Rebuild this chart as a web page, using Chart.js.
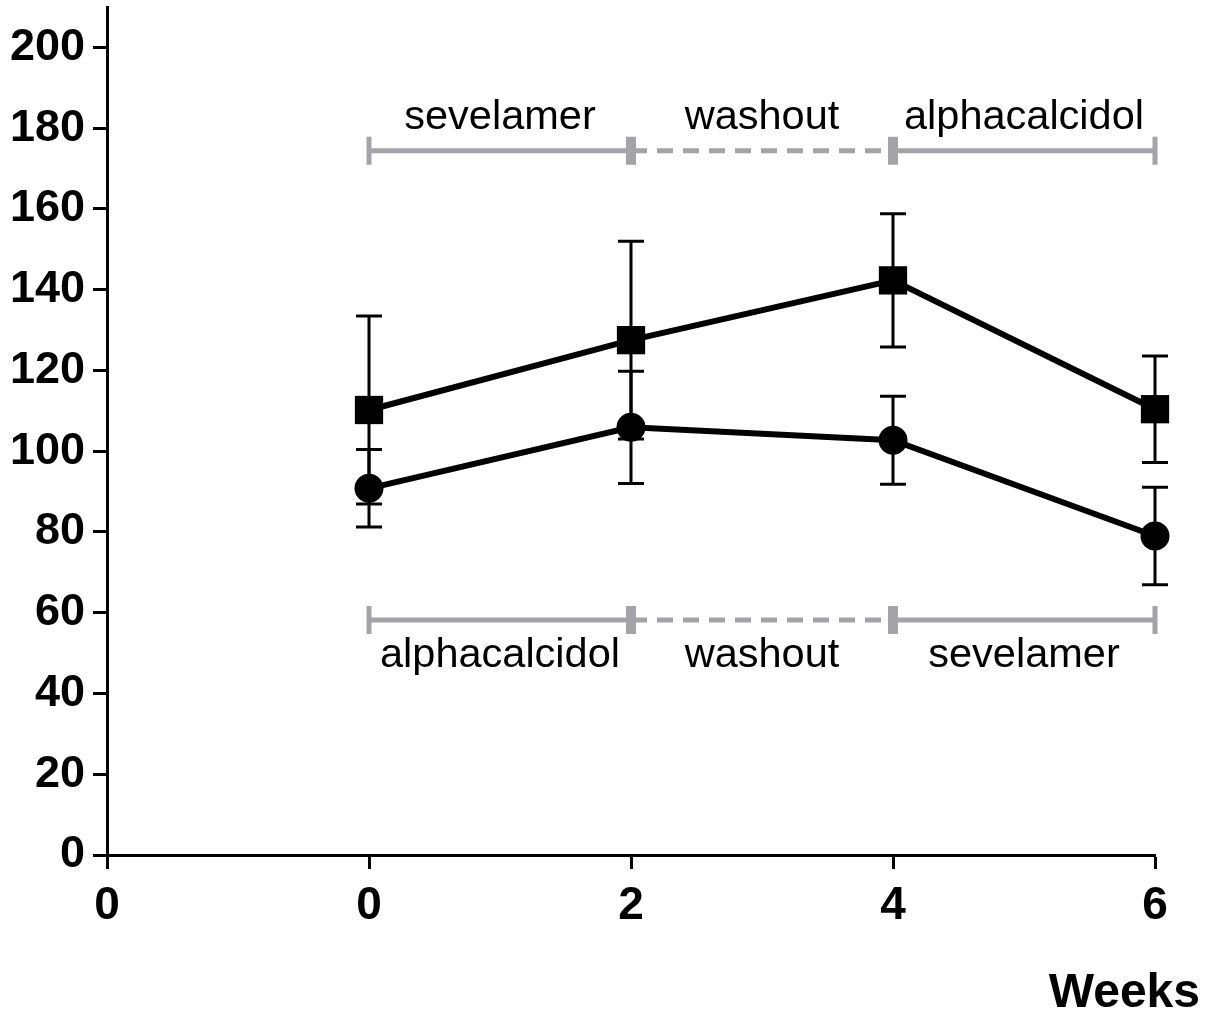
<!DOCTYPE html>
<html>
<head>
<meta charset="utf-8">
<script src="https://cdn.jsdelivr.net/npm/chart.js@4.4.1/dist/chart.umd.min.js"></script>
<style>
  html, body { margin: 0; padding: 0; background: #fff; }
  #wrap { width: 1212px; height: 1018px; }
</style>
</head>
<body>
<div id="wrap"><canvas id="chart" width="1212" height="1018"></canvas></div>
<script>
const weeks = [0, 2, 4, 6];
const squareMean = [110.2, 127.5, 142.3, 110.4];
const squareErr = [23.3, 24.5, 16.5, 13.2];
const circleMean = [90.8, 105.9, 102.7, 79.0];
const circleErr = [9.6, 13.9, 10.9, 12.1];

const yTicks = [0, 20, 40, 60, 80, 100, 120, 140, 160, 180, 200];
const xTicks = [-2, 0, 2, 4, 6];
const xTickLabels = ['0', '0', '2', '4', '6'];

// treatment periods drawn as gray bars above and below the data
const topPeriods = ['sevelamer', 'washout', 'alphacalcidol'];
const bottomPeriods = ['alphacalcidol', 'washout', 'sevelamer'];
const periodEdges = [0, 2, 4, 6];
const topBarY = 174.4;
const bottomBarY = 58.2;
const topLabelY = 182.6;
const bottomLabelY = 49.5;

const GRAY = '#a3a3a8';
const FONT = '"Liberation Sans", Arial, sans-serif';

function pts(xs, ys) {
  return xs.map((x, i) => ({ x, y: ys[i] }));
}

function periodBar(i, y) {
  const washout = i === 1;
  return {
    data: [{ x: periodEdges[i], y }, { x: periodEdges[i + 1], y }],
    borderColor: GRAY,
    borderWidth: 5,
    borderDash: washout ? [16, 10] : [],
    pointStyle: 'line',
    rotation: 90,
    pointRadius: washout ? 0 : 14,
    pointBorderColor: GRAY,
    pointBorderWidth: i === 0 ? [5, 10] : [10, 5],
    clip: false,
    order: 5,
  };
}

const errorBars = {
  id: 'errorBars',
  beforeDatasetsDraw(chart) {
    const { ctx, scales: { x, y } } = chart;
    ctx.save();
    ctx.strokeStyle = '#000';
    ctx.lineWidth = 3;
    const draw = (means, errs) => {
      weeks.forEach((w, i) => {
        const px = x.getPixelForValue(w);
        const hi = y.getPixelForValue(means[i] + errs[i]);
        const lo = y.getPixelForValue(means[i] - errs[i]);
        ctx.beginPath();
        ctx.moveTo(px, hi); ctx.lineTo(px, lo);
        ctx.moveTo(px - 13, hi); ctx.lineTo(px + 13, hi);
        ctx.moveTo(px - 13, lo); ctx.lineTo(px + 13, lo);
        ctx.stroke();
      });
    };
    draw(squareMean, squareErr);
    draw(circleMean, circleErr);
    ctx.restore();
  },
  afterDraw(chart) {
    const { ctx, scales: { x, y } } = chart;
    ctx.save();
    ctx.fillStyle = '#000';
    ctx.textAlign = 'center';
    ctx.textBaseline = 'middle';
    ctx.font = '41.5px ' + FONT;
    topPeriods.forEach((t, i) => {
      const cx = x.getPixelForValue((periodEdges[i] + periodEdges[i + 1]) / 2);
      ctx.fillText(t, cx, y.getPixelForValue(topLabelY));
    });
    bottomPeriods.forEach((t, i) => {
      const cx = x.getPixelForValue((periodEdges[i] + periodEdges[i + 1]) / 2);
      ctx.fillText(t, cx, y.getPixelForValue(bottomLabelY));
    });
    ctx.font = 'bold 48px ' + FONT;
    ctx.textAlign = 'right';
    ctx.fillText('Weeks', 1200, 994);
    ctx.restore();
  },
};

new Chart(document.getElementById('chart'), {
  type: 'line',
  data: {
    datasets: [
      {
        data: pts(weeks, squareMean),
        borderColor: '#000',
        borderWidth: 6,
        pointStyle: 'rect',
        pointRadius: 20,
        pointBackgroundColor: '#000',
        pointBorderColor: '#000',
        pointBorderWidth: 0,
        clip: false,
        order: 1,
      },
      {
        data: pts(weeks, circleMean),
        borderColor: '#000',
        borderWidth: 6,
        pointStyle: 'circle',
        pointRadius: 14.5,
        pointBackgroundColor: '#000',
        pointBorderColor: '#000',
        pointBorderWidth: 0,
        clip: false,
        order: 2,
      },
      ...topPeriods.map((_, i) => periodBar(i, topBarY)),
      ...bottomPeriods.map((_, i) => periodBar(i, bottomBarY)),
    ],
  },
  options: {
    responsive: false,
    animation: false,
    layout: { autoPadding: false, padding: { top: 7, right: 57, left: 0, bottom: 0 } },
    plugins: { legend: { display: false }, tooltip: { enabled: false } },
    scales: {
      x: {
        type: 'linear',
        min: -2,
        max: 6,
        afterFit: (s) => { s.height = 163; s.paddingLeft = 0; s.paddingRight = 0; },
        afterBuildTicks: (s) => { s.ticks = xTicks.map((v) => ({ value: v })); },
        border: { display: true, color: '#000', width: 3 },
        grid: { drawOnChartArea: false, drawTicks: true, tickLength: 14, tickColor: '#000', tickWidth: 3 },
        ticks: {
          color: '#000',
          padding: 10,
          font: { family: FONT, size: 46, weight: 'bold' },
          callback: (v) => xTickLabels[xTicks.indexOf(v)],
        },
      },
      y: {
        min: 0,
        max: 210,
        afterFit: (s) => { s.width = 107; s.paddingTop = 0; s.paddingBottom = 0; },
        afterBuildTicks: (s) => { s.ticks = yTicks.map((v) => ({ value: v })); },
        border: { display: true, color: '#000', width: 3 },
        grid: { drawOnChartArea: false, drawTicks: true, tickLength: 14, tickColor: '#000', tickWidth: 3 },
        ticks: {
          color: '#000',
          padding: 8,
          font: { family: FONT, size: 45, weight: 'bold' },
        },
      },
    },
  },
  plugins: [errorBars],
});
</script>
</body>
</html>
